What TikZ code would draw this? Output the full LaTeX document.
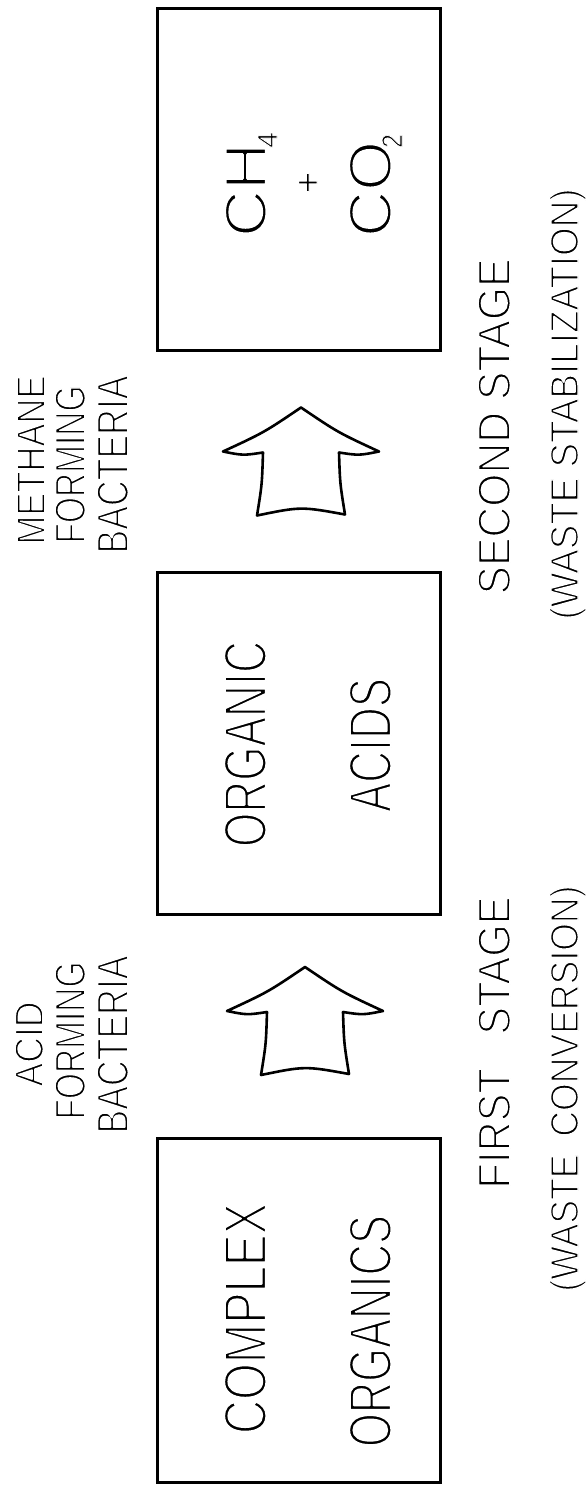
\documentclass[tikz,border=0pt]{standalone}
\usepackage{fontspec}
\setmainfont{Liberation Sans}
% thin the glyphs: fill black, then stroke the outline in white
\newcommand{\thinglyph}[2]{\special{pdf:literal direct 2 Tr 1 j 1 G #1 w}#2\special{pdf:literal direct 0 Tr 0 G}}
\newcommand{\fitbox}[4][1.5]{\resizebox{#2pt}{#3pt}{\fontsize{40}{40}\selectfont\thinglyph{#1}{#4}}}
\begin{document}
\begin{tikzpicture}[x=1pt,y=1pt,
  box/.style={draw, line width=3pt, minimum width=283pt, inner sep=0pt},
  lbl/.style={rotate=90, anchor=base, inner sep=0pt, outer sep=0pt},
  arrowline/.style={draw, line width=2.6pt, line join=round},
  pics/blockarrow/.style={code={
    \path[arrowline] (0,0) .. controls (-37,-25) .. (-78,-44)
      .. controls (-58,-48) .. (-38,-45)
      .. controls (-39,-77) .. (-44,-108)
      .. controls (0,-99) .. (44,-107)
      .. controls (39,-76) .. (38,-45)
      .. controls (58,-48) .. (78,-44)
      .. controls (37,-25) .. cycle;
  }}]
\fill[white] (0,0) rectangle (586,-1486);
\useasboundingbox (0,0) rectangle (586,-1486);

% boxes
\node[box, minimum height=344pt] (b1) at (298.5,-1310) {};
\node[box, minimum height=342pt] (b2) at (298.5,-743) {};
\node[box, minimum height=342pt] (b3) at (298.5,-179) {};

% block arrows
\coordinate (tip1) at (305,-967);
\coordinate (tip2) at (301,-407.5);
\pic at (tip1) {blockarrow};
\pic at (tip2) {blockarrow};

% box texts
\node[lbl] (t11) at (266,-1318.5) {\fitbox{231}{42}{COMPLEX}};
\node[lbl] (t12) at (391,-1331) {\fitbox{232}{42}{ORGANICS}};
\node[lbl] (t21) at (266,-744) {\fitbox{206}{42}{ORGANIC}};
\node[lbl] (t22) at (391,-745) {\fitbox{134}{42}{ACIDS}};
\node[lbl] (ch) at (266,-190) {\fitbox{94}{41}{CH}};
\node[lbl] (ch4) at (277,-140) {\fitbox[1.1]{15.5}{19}{4}};
\node[lbl, font=\fontsize{38}{38}\selectfont] (plus) at (320.4,-182.5) {\thinglyph{1.1}{+}};
\node[lbl] (co) at (391,-189) {\fitbox{96}{42}{CO}};
\node[lbl] (co2) at (402,-141) {\fitbox[1.1]{14}{20}{2}};

% bacteria labels
\node[lbl] (a1) at (43,-1044) {\fitbox{85}{28}{ACID}};
\node[lbl] (a2) at (85,-1040.5) {\fitbox{158}{30}{FORMING}};
\node[lbl] (a3) at (128,-1044.5) {\fitbox{178}{31}{BACTERIA}};
\node[lbl] (m1) at (45,-460) {\fitbox{169}{28}{METHANE}};
\node[lbl] (m2) at (85,-464.5) {\fitbox{158}{30}{FORMING}};
\node[lbl] (m3) at (128,-464.5) {\fitbox{178}{31}{BACTERIA}};

% stage labels
\node[lbl] (s1) at (510,-1042.5) {\fitbox{292}{32}{FIRST\hspace{0.8em}STAGE}};
\node[lbl] (s1b) at (578,-1088.5) {\fitbox{406}{28.5}{(WASTE\hspace{0.5em}CONVERSION)}};
\node[lbl] (s2) at (510,-426.5) {\fitbox{336}{32}{SECOND STAGE}};
\node[lbl] (s2b) at (578,-404) {\fitbox{431}{28.5}{(WASTE STABILIZATION)}};
\end{tikzpicture}
\end{document}
